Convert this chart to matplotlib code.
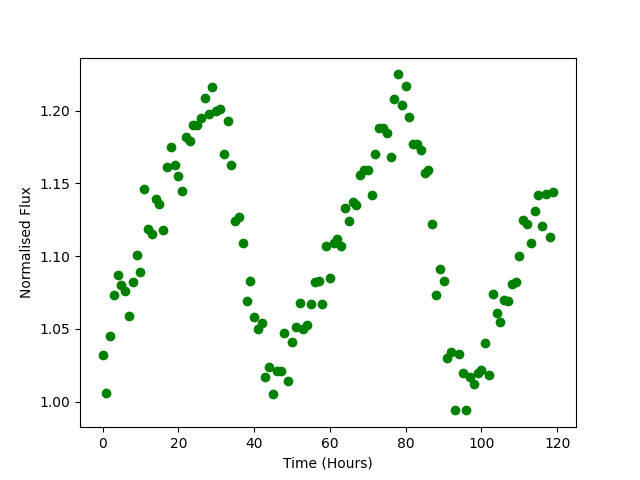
import matplotlib
matplotlib.use("Agg")
import matplotlib.pyplot as plt
import numpy as np

time_hours = list(range(120))
flux = [
    1.032, 1.006, 1.045, 1.073, 1.087, 1.080, 1.076, 1.059, 1.082, 1.101,
    1.089, 1.146, 1.119, 1.115, 1.139, 1.136, 1.118, 1.161, 1.175, 1.163,
    1.155, 1.145, 1.182, 1.179, 1.190, 1.190, 1.195, 1.209, 1.198, 1.216,
    1.200, 1.201, 1.170, 1.193, 1.163, 1.124, 1.127, 1.109, 1.069, 1.083,
    1.058, 1.050, 1.054, 1.017, 1.024, 1.005, 1.021, 1.021, 1.047, 1.014,
    1.041, 1.051, 1.068, 1.050, 1.053, 1.067, 1.082, 1.083, 1.067, 1.107,
    1.085, 1.109, 1.112, 1.107, 1.133, 1.124, 1.137, 1.135, 1.156, 1.159,
    1.159, 1.142, 1.170, 1.188, 1.188, 1.185, 1.168, 1.208, 1.225, 1.204,
    1.217, 1.196, 1.177, 1.177, 1.173, 1.157, 1.159, 1.122, 1.073, 1.091,
    1.083, 1.030, 1.034, 0.994, 1.033, 1.020, 0.994, 1.017, 1.012, 1.020,
    1.022, 1.040, 1.018, 1.074, 1.061, 1.055, 1.070, 1.069, 1.081, 1.082,
    1.100, 1.125, 1.122, 1.109, 1.131, 1.142, 1.121, 1.143, 1.113, 1.144,
]

fig, ax = plt.subplots(figsize=(6.4, 4.8), dpi=100)
ax.plot(time_hours, flux, 'o', color='green')
ax.set_xlabel("Time (Hours)")
ax.set_ylabel("Normalised Flux")
fig.savefig("out.png")
